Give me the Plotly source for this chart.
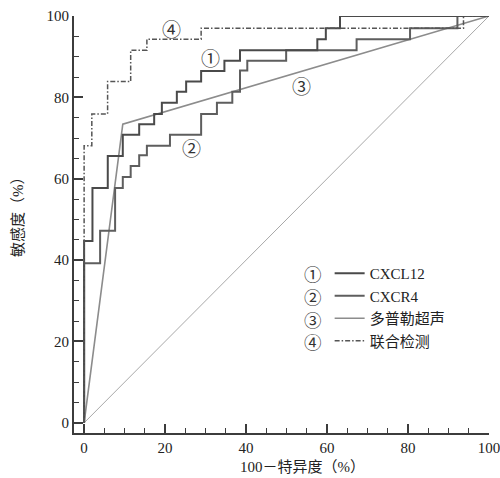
import plotly.graph_objects as go

# ---- data ----
cxcl12_x = [0, 0, 2.06, 5.84, 9.55, 13.6, 17.3, 19.2, 22.9, 25.2, 28.9, 34.65, 38.5, 57.6, 59.7, 63.2, 100]
cxcl12_y = [0, 44.7, 57.7, 65.6, 70.8, 73.4, 75.9, 78.7, 81.4, 83.9, 86.5, 89.0, 91.6, 94.3, 97.0, 100, 100]

cxcr4_x = [0, 0, 3.95, 7.65, 9.55, 11.5, 13.6, 15.5, 21.2, 28.9, 32.8, 36.6, 38.5, 40.3, 49.9, 67.3, 80.5, 92.2, 100]
cxcr4_y = [0, 39.2, 47.2, 57.7, 60.4, 63.1, 65.8, 68.1, 70.8, 75.9, 78.7, 81.4, 86.6, 89.0, 91.6, 94.3, 97.0, 100, 100]

doppler_x = [0, 9.55, 100]
doppler_y = [0, 73.4, 100]

combined_x = [0, 0, 1.9, 5.8, 11.5, 15.5, 28.9, 93.7, 100]
combined_y = [0, 68.1, 75.9, 83.9, 91.6, 94.3, 97.0, 100, 100]

ref_x = [0, 100]
ref_y = [0, 100]

names = ["CXCL12", "CXCR4", "多普勒超声", "联合检测"]
markers = ["①", "②", "③", "④"]
tick_vals = [0, 20, 40, 60, 80, 100]

SERIF = "Liberation Serif, Noto Sans CJK SC, serif"
CJK = "Noto Sans CJK SC, Liberation Serif, serif"

fig = go.Figure()
fig.add_trace(go.Scatter(x=ref_x, y=ref_y, mode="lines",
                         line=dict(color="#a8a8a8", width=1), showlegend=False, hoverinfo="skip"))
fig.add_trace(go.Scatter(x=doppler_x, y=doppler_y, mode="lines", name=names[2],
                         line=dict(color="#8c8c8c", width=1.6)))
fig.add_trace(go.Scatter(x=cxcr4_x, y=cxcr4_y, mode="lines", name=names[1],
                         line=dict(color="#5e5e5e", width=2, shape="hv")))
fig.add_trace(go.Scatter(x=cxcl12_x, y=cxcl12_y, mode="lines", name=names[0],
                         line=dict(color="#4a4a4a", width=2, shape="hv")))
fig.add_trace(go.Scatter(x=combined_x, y=combined_y, mode="lines", name=names[3],
                         line=dict(color="#555555", width=1.5, shape="hv", dash="5px,2px,1.5px,2px")))

# curve labels
label_pos = [(31.1, 89.9), (26.4, 67.8), (53.6, 83.0), (21.7, 97.0)]
for m, (lx, ly) in zip(markers, label_pos):
    fig.add_annotation(x=lx, y=ly, text=m, showarrow=False,
                       font=dict(family=CJK, size=19, color="#333"))

# legend circled numbers (one stacked text, aligned with legend rows)
fig.add_annotation(x=56.6, y=28.4, text="<br>".join(markers), showarrow=False,
                   font=dict(family=CJK, size=17.5, color="#333"))

axis_common = dict(
    showline=True, linecolor="#3c3c3c", linewidth=2,
    ticks="inside", ticklen=9, tickwidth=2, tickcolor="#3c3c3c",
    tickvals=tick_vals, showgrid=False, zeroline=False, automargin=False,
    ticklabeloverflow="allow",
    tickfont=dict(family=SERIF, size=15, color="#222"),
    minor=dict(ticks="inside", ticklen=5, tickwidth=1.2, tickcolor="#3c3c3c", dtick=5, showgrid=False),
    range=[-2.5, 100],
)

fig.update_layout(
    width=500, height=478,
    margin=dict(l=74, r=11, t=16, b=45, autoexpand=False),
    paper_bgcolor="white", plot_bgcolor="white",
    xaxis=dict(**axis_common),
    yaxis=dict(**axis_common),
    legend=dict(x=0.616, y=0.422, xanchor="left", yanchor="top",
                font=dict(family=SERIF, size=15, color="#222"),
                bgcolor="rgba(0,0,0,0)", itemwidth=30,
                traceorder="normal"),
    showlegend=True,
)
# order legend entries 1..4
fig.data[3].legendrank = 1
fig.data[2].legendrank = 2
fig.data[1].legendrank = 3
fig.data[4].legendrank = 4

fig.add_annotation(xref="paper", yref="paper", x=(302 - 74) / 415, y=-(467 - 433) / 417,
                   text="100－特异度（%）", showarrow=False,
                   font=dict(family=SERIF, size=15, color="#222"), yanchor="middle")
fig.add_annotation(xref="paper", yref="paper", x=-(74 - 18) / 415, y=(433 - 213) / 417,
                   text="敏感度（%）", showarrow=False, textangle=-90,
                   font=dict(family=SERIF, size=15, color="#222"), xanchor="center")

fig.write_html("out.html", config={"displayModeBar": False},
               post_script="document.body.style.margin='0px';")
